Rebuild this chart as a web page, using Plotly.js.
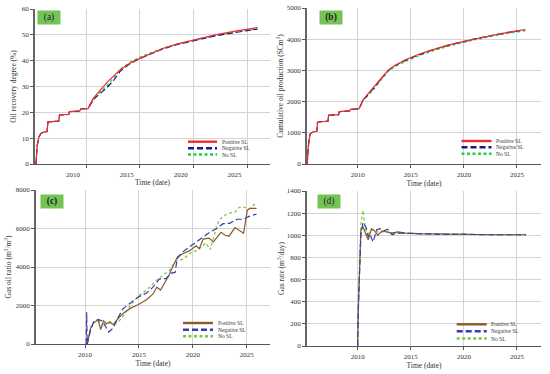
<!DOCTYPE html>
<html><head><meta charset="utf-8">
<script src="https://cdn.plot.ly/plotly-3.0.1.min.js"></script>
<style>html,body{margin:0;padding:0;background:#fff}#chart{width:550px;height:374px}</style>
</head><body><div id="chart"></div>
<script>
// ---------- DATA ----------
const seriesNames = ["Positive SL", "Negative SL", "No SL"];
const xTickVals = [2010, 2015, 2020, 2025];
const xTickText = ["2010", "2015", "2020", "2025"];

// (a) Oil recovery degree (%)
const tA = [2005.34, 2005.45, 2005.62, 2005.8, 2006.0, 2006.38, 2006.45, 2007.0, 2007.46, 2007.53, 2008.0, 2008.38, 2008.45, 2009.0, 2009.42, 2009.49, 2010.0, 2010.22,
            2010.3, 2010.7, 2011.3, 2011.95, 2012.6, 2013.2, 2014.0, 2014.75, 2016.0, 2017.2, 2018.5, 2020.0, 2022.0, 2024.0, 2025.94];
const recPos = [0, 7, 10.5, 11.8, 12.3, 12.6, 16.3, 16.5, 16.6, 19.0, 19.1, 19.2, 20.3, 20.4, 20.5, 21.3, 21.4, 21.5,
                22.6, 25.6, 28.5, 31.6, 34.2, 36.6, 38.8, 40.4, 42.7, 44.8, 46.5, 48.1, 50.0, 51.5, 52.8];
const recNeg = [0, 7, 10.5, 11.8, 12.3, 12.6, 16.3, 16.5, 16.6, 19.0, 19.1, 19.2, 20.3, 20.4, 20.5, 21.3, 21.4, 21.5,
                22.3, 25.0, 27.3, 29.6, 32.6, 36.0, 38.6, 40.3, 42.6, 44.6, 46.3, 47.8, 49.6, 51.0, 52.2];
const recNo  = [0, 7, 10.5, 11.8, 12.3, 12.6, 16.3, 16.5, 16.6, 19.0, 19.1, 19.2, 20.3, 20.4, 20.5, 21.3, 21.4, 21.5,
                22.4, 25.3, 27.8, 30.4, 33.5, 36.7, 39.2, 40.9, 43.0, 44.9, 46.4, 47.9, 49.7, 51.1, 52.3];

// (b) Cumulative oil production (SCm3)
const tB = [2005.25, 2005.35, 2005.5, 2005.8, 2006.15, 2006.22, 2006.6, 2007.2, 2007.27, 2008.2, 2008.27, 2009.25, 2009.32, 2010.13,
            2010.5, 2011.0, 2011.63, 2012.2, 2012.88, 2013.5, 2014.5, 2015.7, 2017.0, 2018.5, 2020.0, 2021.0, 2022.5, 2024.0, 2025.77];
const cumPos = [0, 550, 950, 1030, 1050, 1340, 1360, 1370, 1560, 1580, 1680, 1700, 1750, 1770,
                2060, 2250, 2500, 2740, 3010, 3160, 3340, 3510, 3660, 3810, 3930, 4010, 4110, 4210, 4310];
const cumNeg = [0, 550, 950, 1030, 1050, 1340, 1360, 1370, 1560, 1580, 1680, 1700, 1750, 1770,
                2040, 2220, 2480, 2730, 3000, 3150, 3320, 3490, 3650, 3800, 3930, 4010, 4110, 4210, 4300];
const cumNo  = [0, 550, 950, 1030, 1050, 1340, 1360, 1370, 1560, 1580, 1680, 1700, 1750, 1770,
                2030, 2200, 2440, 2690, 2970, 3120, 3290, 3460, 3620, 3770, 3900, 3980, 4080, 4180, 4270];

// (c) Gas oil ratio (m3/m3)
const tCPos = [2010.2, 2010.5, 2010.8, 2011.2, 2011.45, 2011.7, 2012.0, 2012.3, 2012.6, 2013.1, 2013.55, 2014.2, 2014.95, 2015.7, 2016.3, 2016.65, 2017.0, 2017.3, 2017.8,
               2018.2, 2018.6, 2019.1, 2019.7, 2020.3, 2020.6, 2020.95, 2021.5, 2021.9, 2022.6, 2023.0, 2023.35, 2023.9, 2024.3, 2024.7, 2025.05, 2025.3, 2025.9];
const gorPos = [0, 800, 1100, 1250, 750, 1200, 1050, 1150, 1000, 1350, 1600, 1850, 2050, 2300, 2600, 2950, 2800, 3100, 3600,
                4100, 4550, 4700, 4850, 5100, 4950, 5450, 5500, 5300, 5800, 5650, 5600, 6050, 5900, 5750, 6950, 7050, 7050];
const tCNeg = [2010.1, 2010.15, 2010.2, 2010.5, 2010.8, 2011.2, 2011.6, 2011.9, 2012.2, 2012.6, 2013.1, 2013.55, 2014.2, 2014.95, 2015.7, 2016.3, 2016.9,
               2017.5, 2018.0, 2018.35, 2018.55, 2019.1, 2019.7, 2020.3, 2020.95, 2021.55, 2022.2, 2022.8, 2023.4, 2024.1, 2024.7, 2025.15, 2025.9];
const gorNeg = [0, 1650, 0, 700, 1150, 1280, 1200, 900, 620, 820, 1420, 1850, 2110, 2450, 2650, 2950, 3380,
                3400, 3680, 3720, 4450, 4800, 5050, 5300, 5550, 5800, 6000, 6250, 6270, 6480, 6480, 6620, 6750];
const tCNo = [2010.2, 2010.5, 2010.8, 2011.3, 2011.6, 2011.8, 2012.2, 2012.6, 2013.1, 2013.6, 2014.2, 2014.95, 2015.7, 2016.65, 2017.3, 2017.8,
              2018.2, 2018.6, 2019.1, 2019.7, 2020.3, 2020.7, 2021.2, 2021.6, 2022.0, 2022.4, 2022.8, 2023.4, 2023.9, 2024.3, 2024.8, 2025.2, 2025.9];
const gorNo = [0, 850, 1150, 1200, 850, 1000, 1100, 1070, 1160, 1500, 2000, 2490, 2800, 3320, 3600, 3800,
               4150, 4350, 4400, 4700, 4850, 5000, 5250, 4900, 5700, 6400, 6650, 6800, 6850, 7100, 7100, 7000, 7350];

// (d) Gas rate (m3/day)
const tDPos = [2010.0, 2010.05, 2010.3, 2010.5, 2010.8, 2011.0, 2011.3, 2011.6, 2011.9, 2012.3, 2012.7, 2013.2, 2013.8, 2014.5, 2015.5, 2017.0, 2019.0, 2021.0, 2023.0, 2025.85];
const ratePos = [0, 300, 1040, 1080, 1000, 960, 1060, 1040, 1000, 1040, 1030, 1020, 1030, 1020, 1015, 1012, 1008, 1008, 1005, 1005];
const tDNeg = [2010.0, 2010.05, 2010.3, 2010.5, 2010.8, 2011.0, 2011.15, 2011.45, 2011.8, 2012.1, 2012.5, 2012.8, 2013.25, 2013.6, 2014.2, 2015.0, 2016.5, 2018.0, 2020.0, 2022.0, 2024.0, 2025.85];
const rateNeg = [0, 300, 1000, 1115, 1070, 985, 1010, 940, 1050, 1060, 1040, 1055, 1005, 1020, 1020, 1015, 1012, 1008, 1010, 1005, 1003, 1005];
const tDNo = [2010.0, 2010.05, 2010.3, 2010.5, 2010.7, 2010.9, 2011.15, 2011.5, 2011.8, 2012.2, 2012.6, 2013.0, 2013.6, 2014.5, 2016.0, 2018.0, 2020.0, 2022.0, 2024.0, 2025.85];
const rateNo = [0, 350, 1100, 1225, 1080, 985, 1040, 1050, 1030, 1025, 1040, 1025, 1020, 1018, 1012, 1008, 1005, 1005, 1003, 1003];

// ---------- STYLE ----------
const W = 550, H = 374;
const fx = x => x / W, fy = y => 1 - y / H;
const FONT = "Liberation Serif, Times New Roman, serif";
const colTop = {pos: "#f02b2b", neg: "#1a1a8c", no: "#22d04a"};
const colBot = {pos: "#8b5a2b", neg: "#3a3ab4", no: "#7cc444"};
const DASH_NEG = "6px,3px", DASH_NO = "3px,2.5px";

function tr(x, y, color, dash, ax) {
  return {x: x, y: y, type: "scatter", mode: "lines", xaxis: ax[0], yaxis: ax[1],
          line: {color: color, width: 1.2, dash: dash}, showlegend: false, hoverinfo: "skip"};
}
const traces = [
  tr(tA, recNo, colTop.no, DASH_NO, ["x", "y"]),
  tr(tA, recNeg, colTop.neg, DASH_NEG, ["x", "y"]),
  tr(tA, recPos, colTop.pos, "solid", ["x", "y"]),
  tr(tB, cumNo, colTop.no, DASH_NO, ["x2", "y2"]),
  tr(tB, cumNeg, colTop.neg, DASH_NEG, ["x2", "y2"]),
  tr(tB, cumPos, colTop.pos, "solid", ["x2", "y2"]),
  tr(tCNo, gorNo, colBot.no, DASH_NO, ["x3", "y3"]),
  tr(tCPos, gorPos, colBot.pos, "solid", ["x3", "y3"]),
  tr(tCNeg, gorNeg, colBot.neg, DASH_NEG, ["x3", "y3"]),
  tr(tDNo, rateNo, colBot.no, DASH_NO, ["x4", "y4"]),
  tr(tDPos, ratePos, colBot.pos, "solid", ["x4", "y4"]),
  tr(tDNeg, rateNeg, colBot.neg, DASH_NEG, ["x4", "y4"])
];

function xax(d0, d1, range, anchor, shift, standoff) {
  return {domain: [fx(d0), fx(d1)], range: range, anchor: anchor, tickvals: xTickVals, ticktext: xTickText,
          ticks: "outside", ticklen: 3, tickcolor: "#555", showline: true, linecolor: "#555", linewidth: 1.3,
          showgrid: true, gridcolor: "#d4d4d4", gridwidth: 1, zeroline: false, ticklabelshift: shift,
          tickfont: {family: FONT, size: 7, color: "#333"},
          title: {text: "Time (date)", font: {family: FONT, size: 7.5, color: "#333"}, standoff: standoff}};
}
function yax(y0, y1, range, dtick, anchor, title, standoff) {
  return {domain: [fy(y1), fy(y0)], range: range, dtick: dtick, anchor: anchor,
          ticks: "outside", ticklen: 3, tickcolor: "#555", showline: true, linecolor: "#666", linewidth: 1.8,
          showgrid: true, gridcolor: "#d4d4d4", gridwidth: 1, zeroline: false,
          tickfont: {family: FONT, size: 7, color: "#333"},
          title: {text: title, font: {family: FONT, size: 7.5, color: "#333"}, standoff: standoff}};
}

const layout = {
  width: W, height: H, margin: {l: 0, r: 0, t: 0, b: 0}, paper_bgcolor: "#fff", plot_bgcolor: "#fff",
  showlegend: false,
  xaxis: xax(35, 270, [2005.25, 2027.1], "y", -13, 2),
  yaxis: yax(9, 164, [0, 60], 10, "x", "Oil recovery degree (%)", 4),
  xaxis2: xax(307, 541, [2005.23, 2027.26], "y2", 0, 2),
  yaxis2: yax(8, 164, [0, 5000], 1000, "x2", "Cumulative oil production (SCm<sup>3</sup>)", 2),
  xaxis3: xax(36, 270, [2005.45, 2027.15], "y3", 0, 1),
  yaxis3: yax(190, 344, [0, 8000], 2000, "x3", "Gas oil ratio (m<sup>3</sup>/m<sup>3</sup>)", 3),
  xaxis4: xax(307, 541, [2005.23, 2027.26], "y4", 0, 2),
  yaxis4: yax(191, 346, [0, 1400], 200, "x4", "Gas rate (m<sup>3</sup>/day)", 1),
  shapes: [], annotations: []
};

// panel labels
const panelLabels = [["(a)", 49, 17.5, false], ["(b)", 330.5, 17.5, true], ["(c)", 51.5, 201, true], ["(d)", 329, 201, false]];
panelLabels.forEach(p => layout.annotations.push({
  text: p[3] ? "<b>" + p[0] + "</b>" : p[0], xref: "paper", yref: "paper", x: fx(p[1]), y: fy(p[2]),
  xanchor: "center", yanchor: "middle", showarrow: false, width: 20, height: 11, bgcolor: "#74c455",
  font: {family: FONT, size: 9.5, color: "#222"}
}));

// manual legends (one per panel)
const legends = [
  {x0: 188, x1: 217, rows: [141.7, 148.3, 154.5], c: colTop},
  {x0: 461.5, x1: 491.5, rows: [141, 147.3, 153.7], c: colTop},
  {x0: 183, x1: 213, rows: [323, 329.7, 336.3], c: colBot},
  {x0: 456.7, x1: 486.7, rows: [324.3, 331.3, 338.5], c: colBot}
];
legends.forEach(L => {
  const cols = [L.c.pos, L.c.neg, L.c.no], dashes = ["solid", "6px,3px", "3px,2.5px"];
  L.rows.forEach((ry, i) => {
    layout.shapes.push({type: "line", xref: "paper", yref: "paper", x0: fx(L.x0), x1: fx(L.x1), y0: fy(ry), y1: fy(ry),
                        line: {color: cols[i], width: 2.4, dash: dashes[i]}});
    layout.annotations.push({text: seriesNames[i], xref: "paper", yref: "paper", x: fx(L.x1 + 2.5), y: fy(ry),
                             xanchor: "left", yanchor: "middle", showarrow: false,
                             font: {family: FONT, size: 5.5, color: "#333"}});
  });
});

Plotly.newPlot("chart", traces, layout, {staticPlot: true, displayModeBar: false});
</script></body></html>
